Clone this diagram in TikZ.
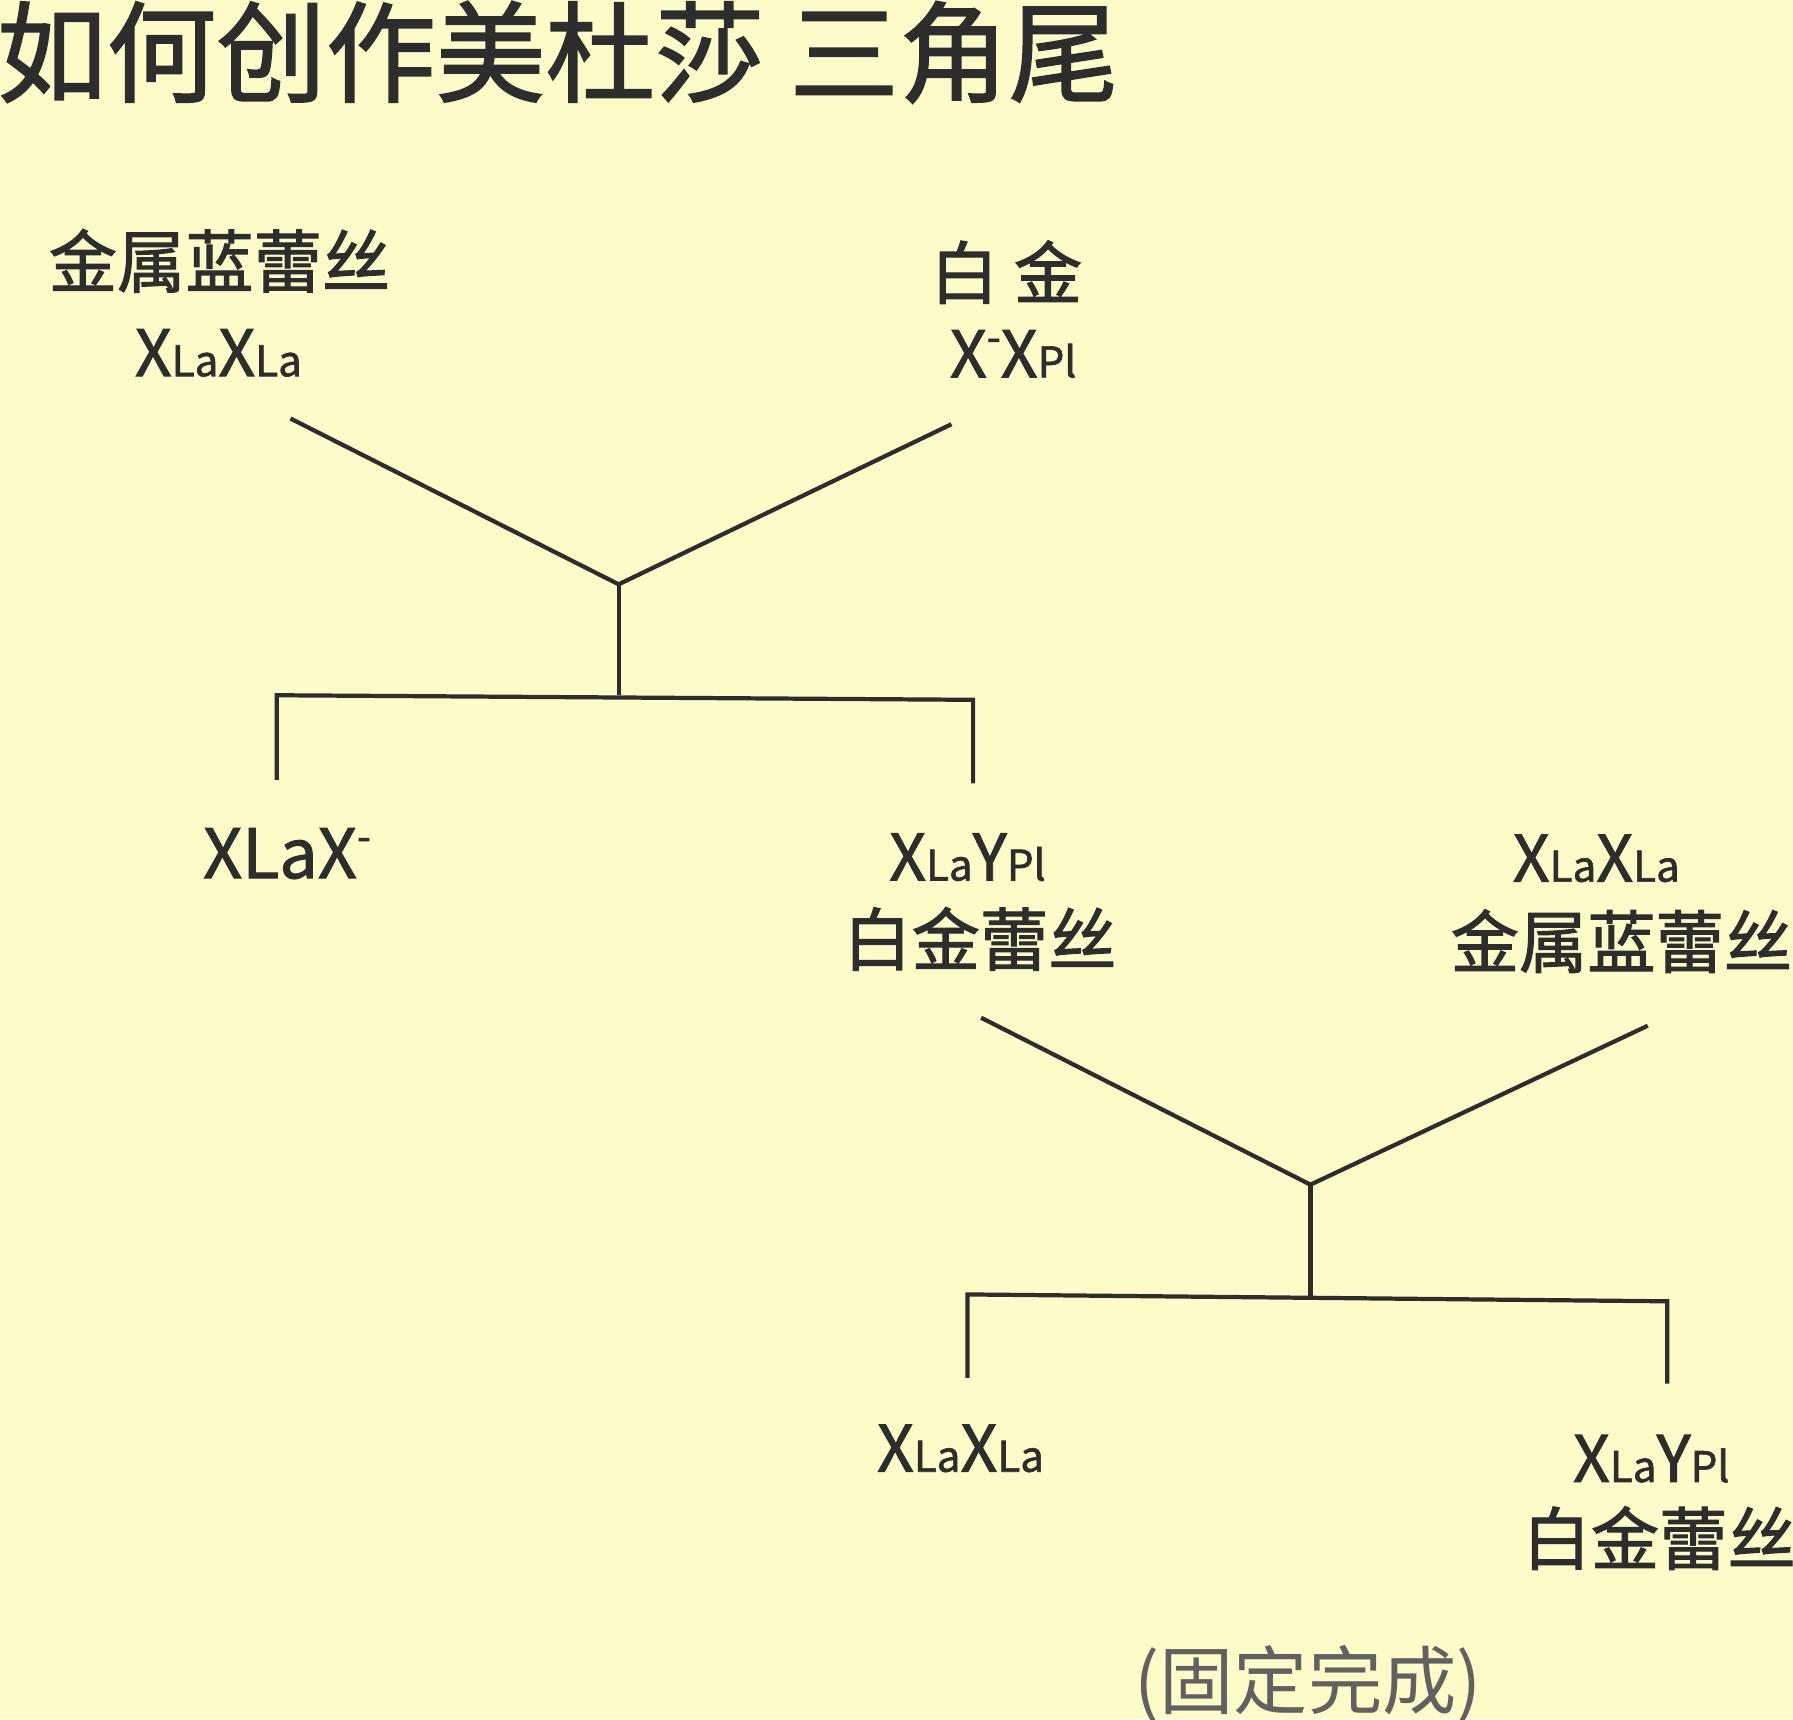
\documentclass[tikz,border=0pt]{standalone}
\usepackage{fontspec}
\setmainfont{Noto Sans CJK SC}
\newfontfamily\medfont[FakeBold=1.5]{Noto Sans CJK SC}
\definecolor{paper}{RGB}{253,252,200}
\definecolor{ink}{RGB}{45,45,45}
\newcommand{\lsmall}[1]{{\fontsize{21}{21}\selectfont #1}}
\newcommand{\minusmark}{\raisebox{0.4em}{\fontsize{20}{20}\selectfont -}}

\begin{document}
\begin{tikzpicture}[x=0.02cm,y=-0.02cm,
  cnlabel/.style={anchor=base,inner sep=0pt,text=ink,font=\medfont\fontsize{34}{34}\selectfont},
  gtlabel/.style={anchor=base,inner sep=0pt,text=ink,font=\medfont\fontsize{32}{32}\selectfont},
  wire/.style={draw=ink,line width=2.1pt}]
  \fill[paper] (0,0) rectangle (1568,1503.3);
  \useasboundingbox (0,0) rectangle (1568,1503.3);

  \node[anchor=base west,inner sep=0pt,text=ink,font=\medfont\fontsize{54.6}{54.6}\selectfont] (title) at (-3,82) {如何创作美杜莎 三角尾};

  % parents, first cross
  \node[cnlabel] (mom1) at (192,251) {金属蓝蕾丝};
  \node[gtlabel] (mom1g) at (191,329) {X\lsmall{La}X\lsmall{La}};
  \node[cnlabel] (dad1) at (880,261) {白 金};
  \node[gtlabel] (dad1g) at (886,330) {X\minusmark X\lsmall{Pl}};

  \coordinate (m1) at (254,366);
  \coordinate (d1) at (832,371);
  \coordinate (j1) at (541,511);
  \coordinate (s1) at (541,608);
  \coordinate (b1l) at (242,608);
  \coordinate (b1r) at (851,612);
  \coordinate (k1) at (242,682);
  \coordinate (k2) at (851,685);
  \draw[wire] (m1) -- (j1) -- (d1);
  \draw[wire] (j1) -- (s1);
  \draw[wire] (k1) -- (b1l) -- (b1r) -- (k2);

  % children, first cross
  \node[gtlabel,font=\medfont\fontsize{34}{34}\selectfont] (kid1) at (251,768) {XLaX\minusmark};
  \node[gtlabel] (kid2g) at (846,770) {X\lsmall{La}Y\lsmall{Pl}};
  \node[cnlabel] (kid2) at (857,844) {白金蕾丝};
  \node[gtlabel] (mom2g) at (1396,771) {X\lsmall{La}X\lsmall{La}};
  \node[cnlabel] (mom2) at (1418,846) {金属蓝蕾丝};

  \coordinate (m2) at (858,890);
  \coordinate (d2) at (1441,897);
  \coordinate (j2) at (1146,1036);
  \coordinate (s2) at (1146,1134);
  \coordinate (b2l) at (846,1132);
  \coordinate (b2r) at (1458,1138);
  \coordinate (k3) at (846,1205);
  \coordinate (k4) at (1458,1210);
  \draw[wire] (m2) -- (j2) -- (d2);
  \draw[wire] (j2) -- (s2);
  \draw[wire] (k3) -- (b2l) -- (b2r) -- (k4);

  % children, second cross
  \node[gtlabel] (kid3) at (840,1287) {X\lsmall{La}X\lsmall{La}};
  \node[gtlabel] (kid4g) at (1444,1296) {X\lsmall{La}Y\lsmall{Pl}};
  \node[cnlabel] (kid4) at (1451,1368) {白金蕾丝};
  \node[cnlabel,font=\fontsize{37}{37}\selectfont,text=ink!75] (note) at (1144,1494) {(固定完成)};
\end{tikzpicture}
\end{document}
